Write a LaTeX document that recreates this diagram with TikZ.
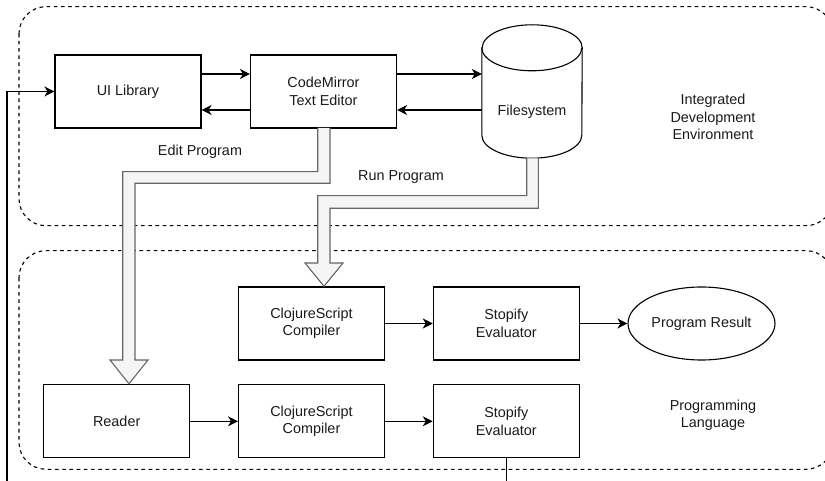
\documentclass[tikz,border=0pt]{standalone}
\usepackage{fontspec}
\setmainfont{Liberation Sans}
\usetikzlibrary{arrows.meta,calc,shapes.geometric}
\definecolor{fatfill}{HTML}{F5F5F5}
\definecolor{fatline}{HTML}{666666}
\definecolor{txt}{HTML}{1A1A1A}
\tikzset{
  lbl/.style={font=\fontsize{14.4}{17.3}\selectfont, text=txt, align=center, inner sep=0pt},
  box/.style={lbl, draw, fill=white, line width=1.1pt, minimum width=146pt, minimum height=73pt},
  resnode/.style={lbl, draw, fill=white, ellipse, line width=1.1pt, minimum width=147pt, minimum height=73pt},
  container/.style={draw, line width=1.1pt, dash pattern=on 3.6pt off 3.6pt, rounded corners=27pt},
  arr/.style={line width=1.1pt, -{Stealth[length=10pt,width=10pt,inset=3pt]}},
  fat/.style={fill=fatfill, draw=fatline, line width=1.1pt, line join=miter},
  cyl/.style={line width=1.1pt},
}
\begin{document}
\begin{tikzpicture}[x=1pt,y=-1pt]
\useasboundingbox (0,0) rectangle (825,481);
\begin{scope}
\clip (0,0) rectangle (825,481);
% containers
\draw[container] (19,6.7) rectangle (833,225.7);
\draw[container] (19,250.7) rectangle (833,469.3);
\node[lbl] (idelbl) at (713,117) {Integrated\\Development\\Environment};
\node[lbl] (pllbl) at (713,415.5) {Programming\\Language};

% nodes
\node[box] (ui) at (128,91.5) {UI Library};
\node[box] (cm) at (323.5,91.5) {CodeMirror\\Text Editor};
\node[minimum width=100pt, minimum height=133pt, inner sep=0pt] (fs) at (532,91.5) {};
\node[box] (cljsA) at (311.5,323.5) {ClojureScript\\Compiler};
\node[box] (stopA) at (506.3,323.5) {Stopify\\Evaluator};
\node[resnode] (res) at (701.5,323.5) {Program Result};
\node[box] (reader) at (116.7,421.3) {Reader};
\node[box] (cljsB) at (311.5,421.3) {ClojureScript\\Compiler};
\node[box] (stopB) at (506.3,421.3) {Stopify\\Evaluator};

% cylinder (arc radii are canvas lengths: angle 90 points up)
\draw[cyl, fill=white]
  ($(fs.north west)+(0,23)$) -- ($(fs.south west)+(0,-23)$)
  arc[start angle=180, end angle=360, x radius=50pt, y radius=23pt]
  -- ($(fs.north east)+(0,23)$)
  arc[start angle=0, end angle=180, x radius=50pt, y radius=23pt] -- cycle;
\draw[cyl] ($(fs.north west)+(0,23)$)
  arc[start angle=180, end angle=360, x radius=50pt, y radius=23pt];
\node[lbl] (fslbl) at (532,111.5) {Filesystem};

% fat arrows
\coordinate (editTip) at (129,383.8);
\coordinate (runTip) at (324,286.3);
\filldraw[fat] (317.7,128) -- (317.7,171.7) -- (122.7,171.7) -- (122.7,360) -- (110,360)
  -- (editTip) -- (148,360) -- (135,360) -- (135,183.3) -- (330,183.3) -- (330,128);
\filldraw[fat] (526.7,158.5) -- (526.7,195.7) -- (317.7,195.7) -- (317.7,263) -- (305,263)
  -- (runTip) -- (343,263) -- (330,263) -- (330,208.3) -- (538.3,208.3) -- (538.3,158.5);
\node[lbl] (editlbl) at (200,152) {Edit Program};
\node[lbl] (runlbl) at (401,177) {Run Program};

% connectors
\draw[arr] ($(ui.east)+(0,-17.5)$) -- ($(cm.west)+(0,-17.5)$);
\draw[arr] ($(cm.west)+(0,18.5)$) -- ($(ui.east)+(0,18.5)$);
\draw[arr] ($(cm.east)+(0,-17.5)$) -- ($(fs.west)+(0,-17.5)$);
\draw[arr] ($(fs.west)+(0,18.5)$) -- ($(cm.east)+(0,18.5)$);
\draw[arr] (cljsA) -- (stopA);
\draw[arr] (stopA) -- (res);
\draw[arr] (reader) -- (cljsB);
\draw[arr] (cljsB) -- (stopB);
\coordinate (fb) at (7,500);
\draw[arr] (stopB.south) |- (fb) |- (ui.west);
\end{scope}
\end{tikzpicture}
\end{document}
